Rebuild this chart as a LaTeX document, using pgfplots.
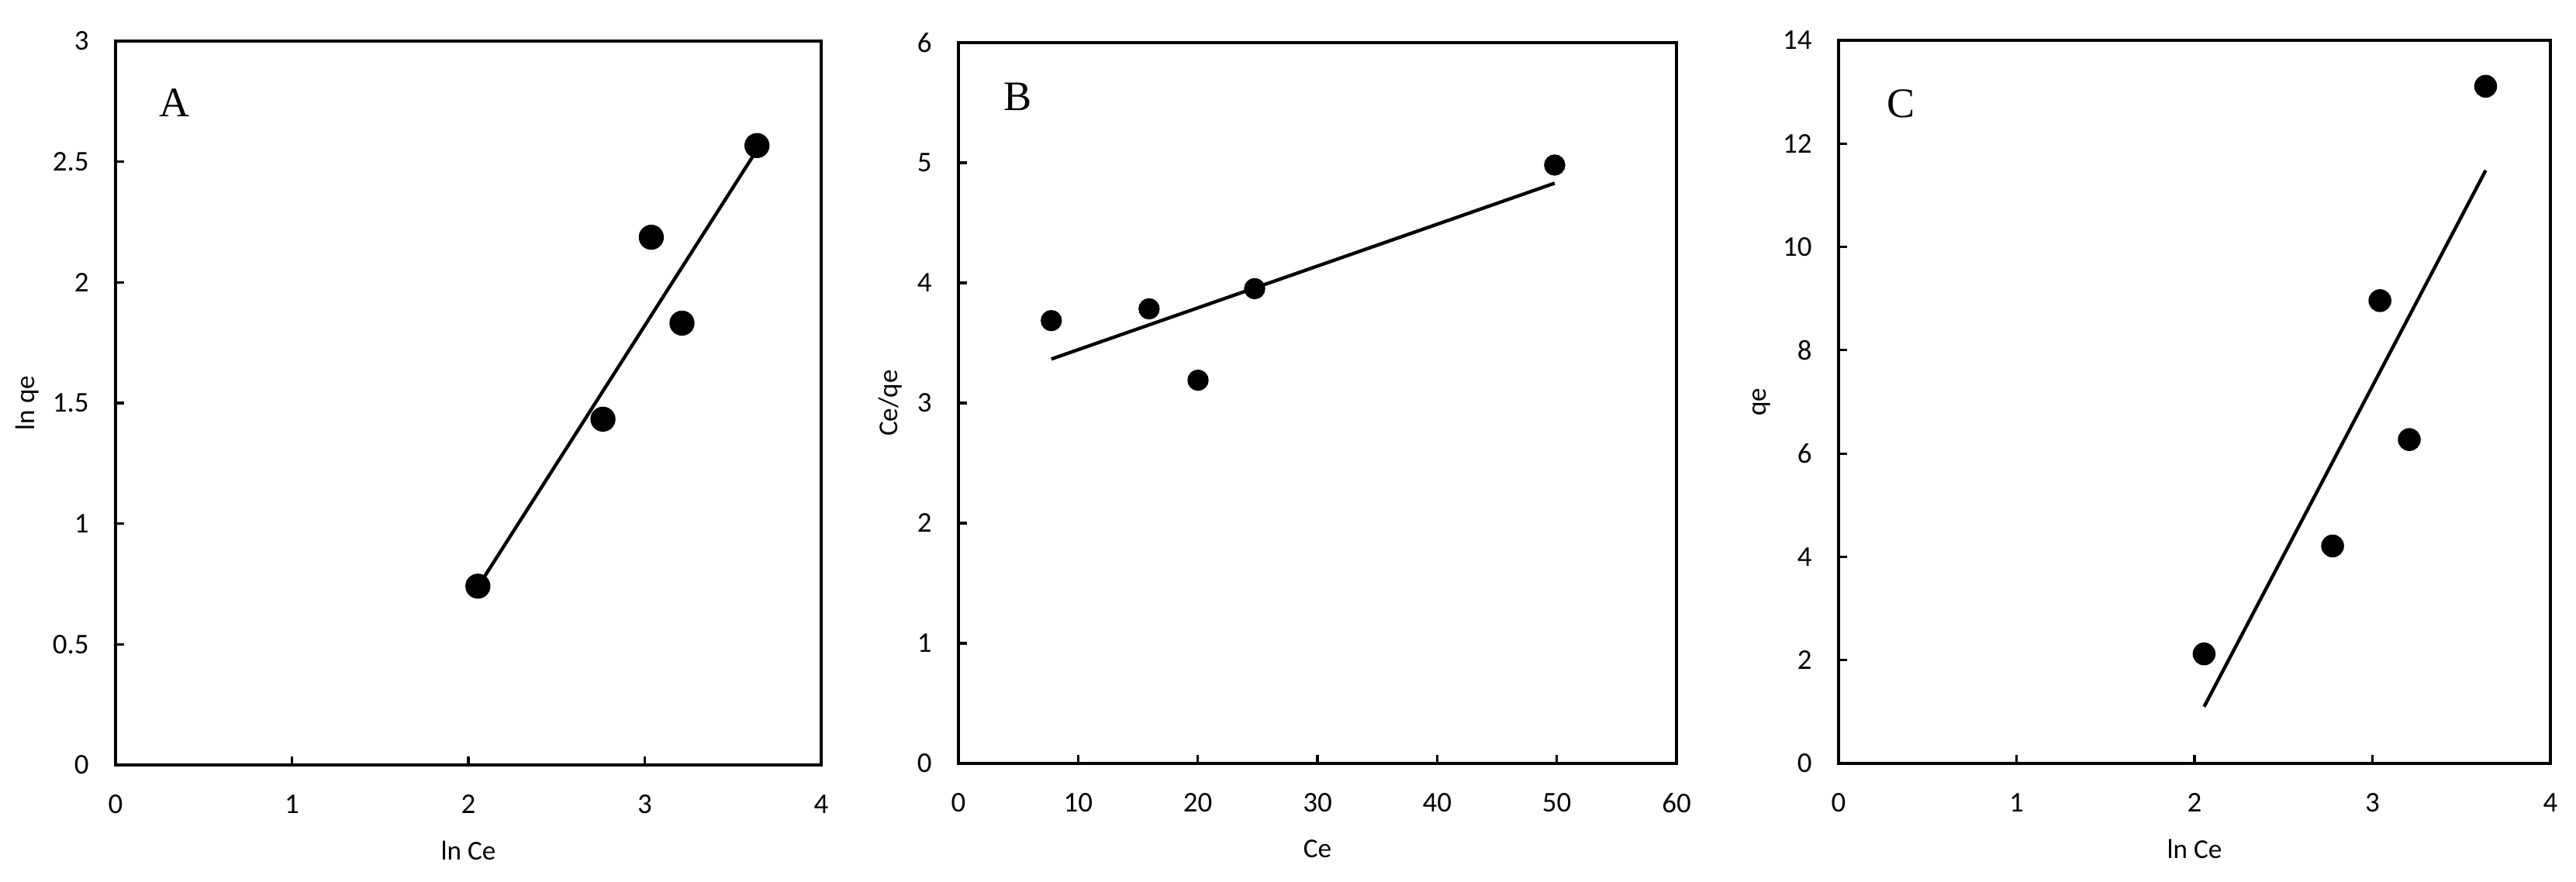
\documentclass[border=0pt]{standalone}
\usepackage{pgfplots}
\pgfplotsset{compat=1.18}
\usepackage{fontspec}
\setmainfont{Carlito}
\newfontfamily\letterfont{Liberation Serif}

\pgfplotsset{
  panel/.style={
    scale only axis,
    anchor=south west,
    axis line style={line width=0.95pt},
    tick align=inside,
    xtick pos=bottom, ytick pos=left,
    major tick length=0.11cm,
    every tick/.style={line width=0.9pt, black},
    tick label style={font=\fontsize{10.5}{12}\selectfont},
    /pgf/number format/assume math mode=true,
    xticklabel style={yshift=-0.26cm},
    yticklabel style={xshift=-0.22cm},
    label style={font=\fontsize{11.6}{14}\selectfont},
    every axis x label/.style={at={(axis description cs:0.5,-0.118)}, anchor=center},
  },
  fitline/.style={no marks, black, line width=1.25pt},
  pts/.style={only marks, mark=*, black, mark options={fill=black}},
}
\tikzset{letter/.style={font=\letterfont\fontsize{15.4}{18}\selectfont, anchor=center}}

\begin{document}
\begin{tikzpicture}
\useasboundingbox (0,0) rectangle (33.22,11.37);

% A: Freundlich
\begin{axis}[panel, at={(1.49cm,1.50cm)}, width=9.10cm, height=9.34cm,
  xmin=0, xmax=4, ymin=0, ymax=3,
  xtick={0,1,2,3,4}, ytick={0,0.5,1,1.5,2,2.5,3},
  yticklabels={0,0.5,1,1.5,2,2.5,3},
  xlabel={ln Ce}, ylabel={ln qe},
  every axis y label/.style={at={(axis description cs:-0.125,0.5)}, rotate=90, anchor=center}]
\addplot[fitline] coordinates {(2.054,0.738) (3.636,2.549)};
\addplot[pts, mark size=4.4pt] coordinates {
  (2.054,0.741) (2.763,1.433) (3.037,2.187) (3.211,1.831) (3.636,2.567)};
\node[letter] at (rel axis cs:0.084,0.915) {A};
\end{axis}

% B: Langmuir
\begin{axis}[panel, at={(12.36cm,1.52cm)}, width=9.26cm, height=9.30cm,
  xmin=0, xmax=60, ymin=0, ymax=6,
  xtick={0,10,...,60}, ytick={0,1,...,6},
  xlabel={Ce}, ylabel={Ce/qe},
  every axis y label/.style={at={(axis description cs:-0.095,0.5)}, rotate=90, anchor=center}]
\addplot[fitline] coordinates {(7.76,3.366) (49.82,4.830)};
\addplot[pts, mark size=3.7pt] coordinates {
  (7.76,3.686) (15.93,3.784) (20.02,3.19) (24.75,3.952) (49.82,4.981)};
\node[letter] at (rel axis cs:0.083,0.925) {B};
\end{axis}

% C: Temkin
\begin{axis}[panel, at={(23.71cm,1.52cm)}, width=9.18cm, height=9.33cm,
  xmin=0, xmax=4, ymin=0, ymax=14,
  xtick={0,1,2,3,4}, ytick={0,2,...,14},
  xlabel={ln Ce}, ylabel={qe},
  every axis y label/.style={at={(axis description cs:-0.108,0.5)}, rotate=90, anchor=center}]
\addplot[fitline] coordinates {(2.054,1.098) (3.636,11.48)};
\addplot[pts, mark size=4pt] coordinates {
  (2.054,2.12) (2.776,4.21) (3.042,8.96) (3.207,6.27) (3.636,13.11)};
\node[letter] at (rel axis cs:0.088,0.912) {C};
\end{axis}
\end{tikzpicture}
\end{document}
